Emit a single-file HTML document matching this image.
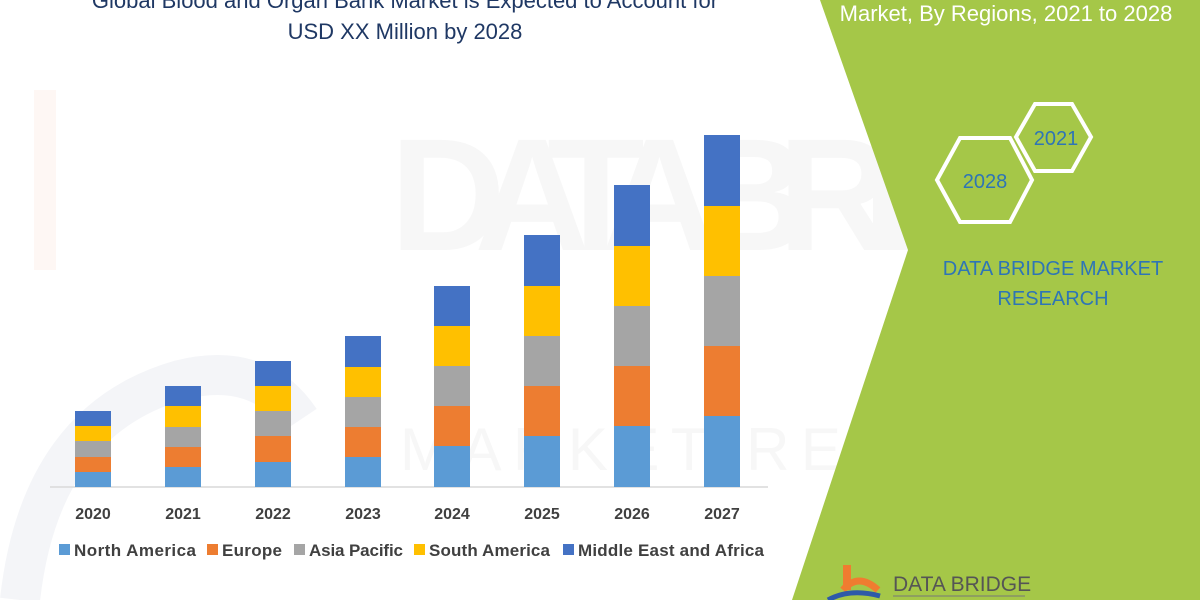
<!DOCTYPE html>
<html><head><meta charset="utf-8"><style>
body{margin:0;width:1200px;height:600px;overflow:hidden;background:#fff;font-family:"Liberation Sans",sans-serif}
</style></head><body>
<svg width="1200" height="600" viewBox="0 0 1200 600" xmlns="http://www.w3.org/2000/svg" font-family="Liberation Sans, sans-serif">
<rect width="1200" height="600" fill="#fff"/>
<rect x="34" y="90" width="22" height="180" fill="#fef7f4"/>
<path d="M20 600 Q40 420 180 380 Q260 360 300 420" fill="none" stroke="#f4f5f8" stroke-width="40"/>
<text x="390" y="250" font-size="160" fill="#f7f7f7" font-weight="bold" textLength="770" lengthAdjust="spacing">DATA BRIDGE</text>
<text x="400" y="470" font-size="60" fill="#f7f7f7" textLength="760" lengthAdjust="spacing">MARKET RESEARCH</text>
<polygon points="820,0 1200,0 1200,600 792,600 908,250" fill="#a5c748"/>
<text x="405" y="8" font-size="22" fill="#1f3864" text-anchor="middle">Global Blood and Organ Bank Market is Expected to Account for</text>
<text x="405" y="39" font-size="22" fill="#1f3864" text-anchor="middle">USD XX Million by 2028</text>
<text x="1006" y="21" font-size="22" fill="#fff" text-anchor="middle">Market, By Regions, 2021 to 2028</text>
<polygon points="937,180 960,138 1010,138 1032,180 1010,222 960,222" fill="none" stroke="#fff" stroke-width="4"/>
<polygon points="1016,137 1035,104 1072,104 1091,137 1072,171 1035,171" fill="none" stroke="#fff" stroke-width="4"/>
<text x="985" y="188" font-size="20" fill="#2e75b6" text-anchor="middle">2028</text>
<text x="1056" y="145" font-size="20" fill="#2e75b6" text-anchor="middle">2021</text>
<text x="1053" y="275" font-size="20" fill="#2e75b6" text-anchor="middle">DATA BRIDGE MARKET</text>
<text x="1053" y="305" font-size="20" fill="#2e75b6" text-anchor="middle">RESEARCH</text>
<rect x="843" y="565" width="8" height="25" fill="#f07c30"/>
<path d="M843 590 Q858 572 878 590" fill="none" stroke="#f07c30" stroke-width="7"/>
<path d="M828 600 Q850 588 880 596" fill="none" stroke="#2e5aa8" stroke-width="5"/>
<text x="893" y="591" font-size="21" fill="#555">DATA BRIDGE</text>
<line x1="893" y1="596" x2="1025" y2="596" stroke="#777" stroke-width="1"/>
<line x1="50" y1="487" x2="768" y2="487" stroke="#d9d9d9" stroke-width="1.5"/>
<g font-size="16" font-weight="bold" fill="#404040" text-anchor="middle">
<text x="93" y="519">2020</text><text x="183" y="519">2021</text><text x="273" y="519">2022</text><text x="363" y="519">2023</text><text x="452" y="519">2024</text><text x="542" y="519">2025</text><text x="632" y="519">2026</text><text x="722" y="519">2027</text>
</g>
<g font-size="17" font-weight="bold" fill="#404040">
<rect x="59" y="544" width="11" height="11" fill="#5b9bd5"/><text x="74" y="556" textLength="122">North America</text>
<rect x="207" y="544" width="11" height="11" fill="#ed7d31"/><text x="222" y="556" textLength="60">Europe</text>
<rect x="294" y="544" width="11" height="11" fill="#a5a5a5"/><text x="309" y="556" textLength="94">Asia Pacific</text>
<rect x="414" y="544" width="11" height="11" fill="#ffc000"/><text x="429" y="556" textLength="121">South America</text>
<rect x="563" y="544" width="11" height="11" fill="#4472c4"/><text x="578" y="556" textLength="186">Middle East and Africa</text>
</g>
<g>
<rect x="75" y="472" width="36" height="15" fill="#5b9bd5"/><rect x="75" y="457" width="36" height="15" fill="#ed7d31"/><rect x="75" y="441" width="36" height="16" fill="#a5a5a5"/><rect x="75" y="426" width="36" height="15" fill="#ffc000"/><rect x="75" y="411" width="36" height="15" fill="#4472c4"/>
<rect x="165" y="467" width="36" height="20" fill="#5b9bd5"/><rect x="165" y="447" width="36" height="20" fill="#ed7d31"/><rect x="165" y="427" width="36" height="20" fill="#a5a5a5"/><rect x="165" y="406" width="36" height="21" fill="#ffc000"/><rect x="165" y="386" width="36" height="20" fill="#4472c4"/>
<rect x="255" y="462" width="36" height="25" fill="#5b9bd5"/><rect x="255" y="436" width="36" height="26" fill="#ed7d31"/><rect x="255" y="411" width="36" height="25" fill="#a5a5a5"/><rect x="255" y="386" width="36" height="25" fill="#ffc000"/><rect x="255" y="361" width="36" height="25" fill="#4472c4"/>
<rect x="345" y="457" width="36" height="30" fill="#5b9bd5"/><rect x="345" y="427" width="36" height="30" fill="#ed7d31"/><rect x="345" y="397" width="36" height="30" fill="#a5a5a5"/><rect x="345" y="367" width="36" height="30" fill="#ffc000"/><rect x="345" y="336" width="36" height="31" fill="#4472c4"/>
<rect x="434" y="446" width="36" height="41" fill="#5b9bd5"/><rect x="434" y="406" width="36" height="40" fill="#ed7d31"/><rect x="434" y="366" width="36" height="40" fill="#a5a5a5"/><rect x="434" y="326" width="36" height="40" fill="#ffc000"/><rect x="434" y="286" width="36" height="40" fill="#4472c4"/>
<rect x="524" y="436" width="36" height="51" fill="#5b9bd5"/><rect x="524" y="386" width="36" height="50" fill="#ed7d31"/><rect x="524" y="336" width="36" height="50" fill="#a5a5a5"/><rect x="524" y="286" width="36" height="50" fill="#ffc000"/><rect x="524" y="235" width="36" height="51" fill="#4472c4"/>
<rect x="614" y="426" width="36" height="61" fill="#5b9bd5"/><rect x="614" y="366" width="36" height="60" fill="#ed7d31"/><rect x="614" y="306" width="36" height="60" fill="#a5a5a5"/><rect x="614" y="246" width="36" height="60" fill="#ffc000"/><rect x="614" y="185" width="36" height="61" fill="#4472c4"/>
<rect x="704" y="416" width="36" height="71" fill="#5b9bd5"/><rect x="704" y="346" width="36" height="70" fill="#ed7d31"/><rect x="704" y="276" width="36" height="70" fill="#a5a5a5"/><rect x="704" y="206" width="36" height="70" fill="#ffc000"/><rect x="704" y="135" width="36" height="71" fill="#4472c4"/>
</g>
</svg>
</body></html>
